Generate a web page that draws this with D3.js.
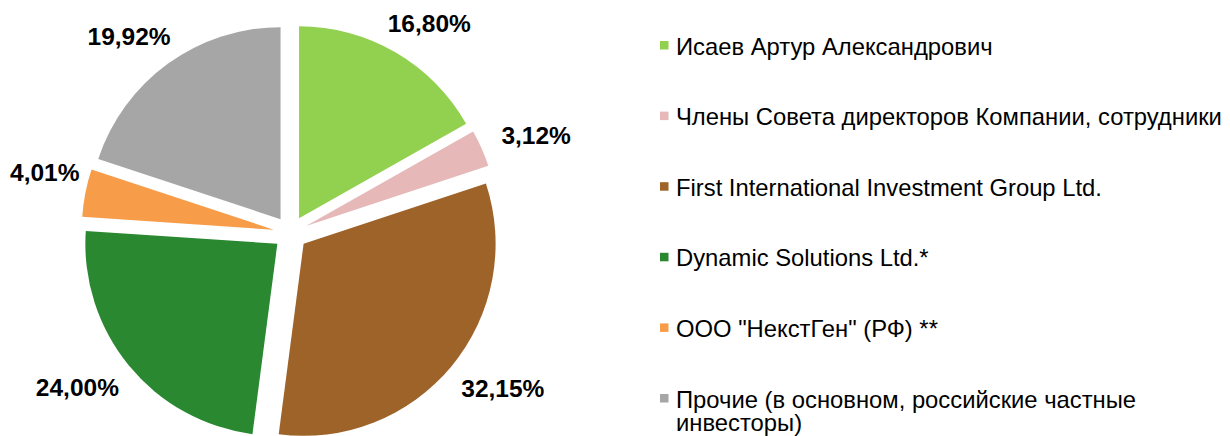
<!DOCTYPE html>
<html>
<head>
<meta charset="utf-8">
<script src="https://cdn.jsdelivr.net/npm/d3@7"></script>
<style>
  body { margin: 0; background: #fff; }
  text { font-family: "Liberation Sans", Arial, sans-serif; }
</style>
</head>
<body>
<div id="plot"></div>
<script>
var svgWidth = 1230;
var svgHeight = 436;

// shareholders, in the order the slices go clockwise from 12 o'clock
var holders = [
  "Исаев Артур Александрович",
  "Члены Совета директоров Компании, сотрудники",
  "First International Investment Group Ltd.",
  "Dynamic Solutions Ltd.*",
  "ООО \"НекстГен\" (РФ) **",
  "Прочие (в основном, российские частные инвесторы)"
];
var shares = [16.80, 3.12, 32.15, 24.00, 4.01, 19.92];
var colors = ["#92d050", "#e6b9b8", "#9e6329", "#298830", "#f79d4a", "#a6a6a6"];

var cx = 290.5, cy = 233;
var radius = 192;
var explode = 17;
var labelRadius = 234;

var svg = d3.select("#plot")
  .append("svg")
  .attr("width", svgWidth)
  .attr("height", svgHeight);

var data = holders.map(function(h, i) {
  return { name: h, value: shares[i], color: colors[i] };
});

var pie = d3.pie()
  .sort(null)
  .value(d => d.value);

var arc = d3.arc()
  .innerRadius(0)
  .outerRadius(radius);

var arcs = pie(data);

var pieGroup = svg.append("g")
  .attr("transform", `translate(${cx}, ${cy})`);

function midAngle(d) {
  return (d.startAngle + d.endAngle) / 2;
}

pieGroup.selectAll("path")
  .data(arcs)
  .enter()
  .append("path")
  .attr("d", arc)
  .attr("fill", d => d.data.color)
  .attr("transform", function(d) {
    var a = midAngle(d);
    return `translate(${explode * Math.sin(a)}, ${-explode * Math.cos(a)})`;
  });

// percentage labels, just outside each slice, kept inside the chart area
var fmt = v => v.toFixed(2).replace(".", ",") + "%";

pieGroup.selectAll("text.pct")
  .data(arcs)
  .enter()
  .append("text")
  .attr("class", "pct")
  .attr("font-size", "24.5px")
  .attr("font-weight", "bold")
  .attr("fill", "#000")
  .attr("text-anchor", "middle")
  .text(d => fmt(d.data.value))
  .each(function(d) {
    var a = midAngle(d);
    var w = this.getComputedTextLength();
    var x = labelRadius * Math.sin(a) + (w / 2) * Math.sin(a);
    var y = -labelRadius * Math.cos(a) - 9 * Math.cos(a);
    var minX = -cx + 10 + w / 2;
    if (x < minX) {
      // pushed in from the left edge, so it sits a bit higher like Excel's best fit
      y -= (minX - x) * 0.8;
      x = minX;
    }
    d3.select(this).attr("x", x).attr("y", y + 9);
  });

// legend
var legend = svg.append("g")
  .attr("transform", "translate(660, 54.5)");

var rowStep = 70.6;
var maxTextWidth = 565;

var rows = legend.selectAll("g.row")
  .data(data)
  .enter()
  .append("g")
  .attr("class", "row")
  .attr("transform", (d, i) => `translate(0, ${i * rowStep})`);

rows.append("rect")
  .attr("x", 0)
  .attr("y", -13.5)
  .attr("width", 8.5)
  .attr("height", 8.5)
  .attr("fill", d => d.color);

rows.append("text")
  .attr("x", 16)
  .attr("y", 0)
  .attr("font-size", "23.8px")
  .attr("fill", "#000")
  .each(function(d) {
    var text = d3.select(this);
    var words = d.name.split(" ");
    var line = [];
    var tspan = text.append("tspan").attr("x", 16).attr("dy", 0);
    words.forEach(function(word) {
      line.push(word);
      tspan.text(line.join(" "));
      if (tspan.node().getComputedTextLength() > maxTextWidth && line.length > 1) {
        line.pop();
        tspan.text(line.join(" "));
        line = [word];
        tspan = text.append("tspan").attr("x", 16).attr("dy", 23.5).text(word);
      }
    });
  });
</script>
</body>
</html>
